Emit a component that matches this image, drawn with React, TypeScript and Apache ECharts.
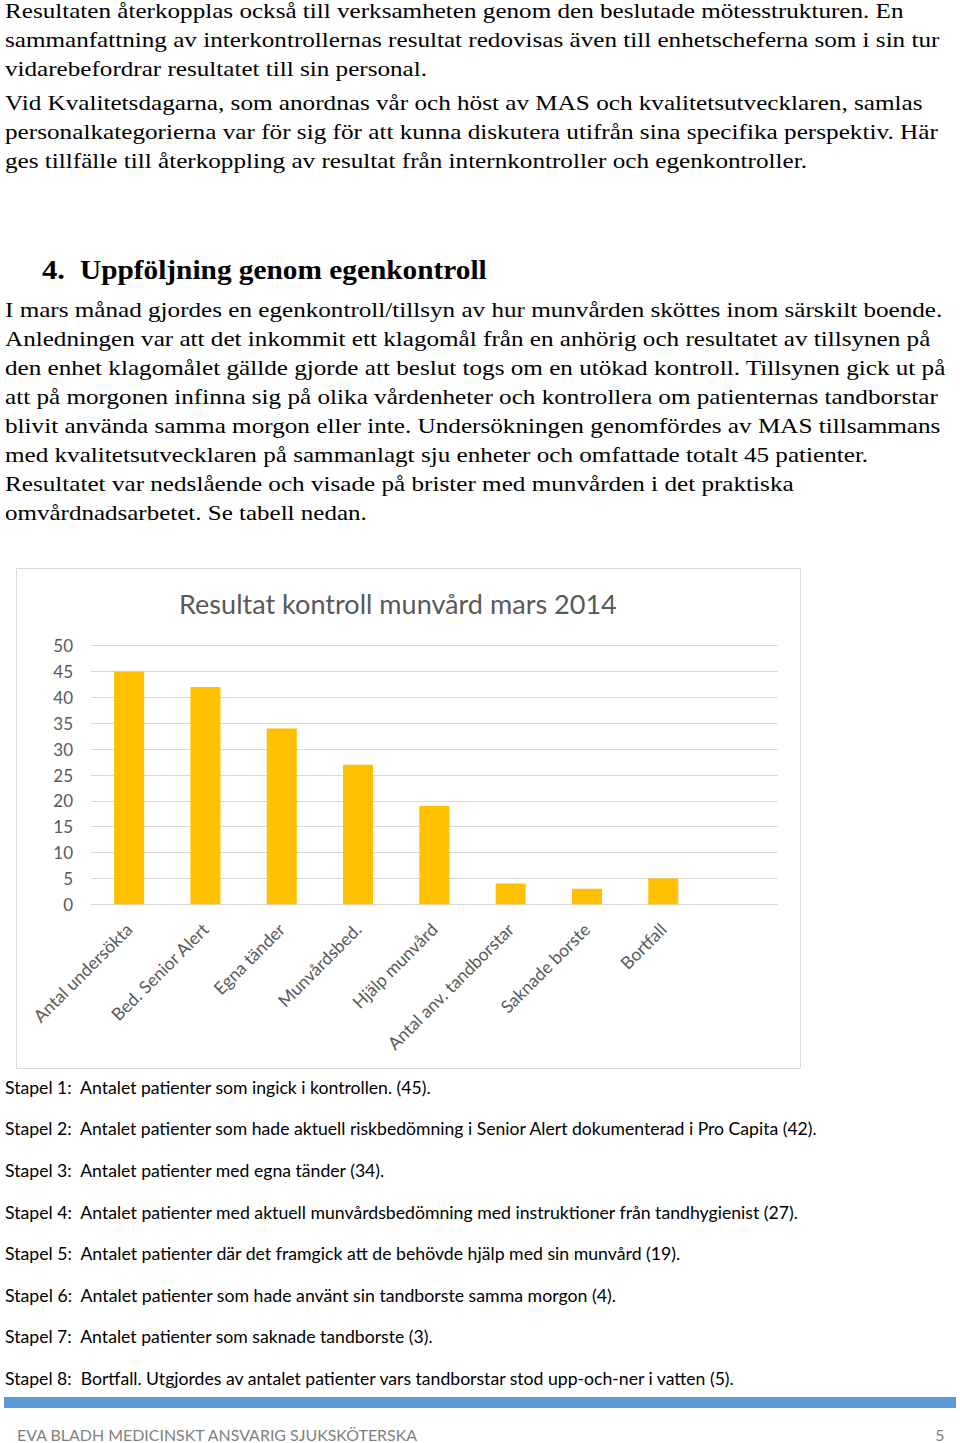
import React, { useEffect, useRef } from "react";
import * as echarts from "echarts";

// ---------- data ----------
const categories = [
  "Antal undersökta",
  "Bed. Senior Alert",
  "Egna tänder",
  "Munvårdsbed.",
  "Hjälp munvård",
  "Antal anv. tandborstar",
  "Saknade borste",
  "Bortfall",
  "",
];
const values: (number | null)[] = [45, 42, 34, 27, 19, 4, 3, 5, null];
const yMin = 0;
const yMax = 50;
const yStep = 5;
const chartTitle = "Resultat kontroll munvård mars 2014";

const para1 = [
  "Resultaten återkopplas också till verksamheten genom den beslutade mötesstrukturen. En",
  "sammanfattning av interkontrollernas resultat redovisas även till enhetscheferna som i sin tur",
  "vidarebefordrar resultatet till sin personal.",
];
const para2 = [
  "Vid Kvalitetsdagarna, som anordnas vår och höst av MAS och kvalitetsutvecklaren, samlas",
  "personalkategorierna var för sig för att kunna diskutera utifrån sina specifika perspektiv. Här",
  "ges tillfälle till återkoppling av resultat från internkontroller och egenkontroller.",
];
const headingNumber = "4.";
const headingText = "Uppföljning genom egenkontroll";
const para3 = [
  "I mars månad gjordes en egenkontroll/tillsyn av hur munvården sköttes inom särskilt boende.",
  "Anledningen var att det inkommit ett klagomål från en anhörig och resultatet av tillsynen på",
  "den enhet klagomålet gällde gjorde att beslut togs om en utökad kontroll. Tillsynen gick ut på",
  "att på morgonen infinna sig på olika vårdenheter och kontrollera om patienternas tandborstar",
  "blivit använda samma morgon eller inte. Undersökningen genomfördes av MAS tillsammans",
  "med kvalitetsutvecklaren på sammanlagt sju enheter och omfattade totalt 45 patienter.",
  "Resultatet var nedslående och visade på brister med munvården i det praktiska",
  "omvårdnadsarbetet. Se tabell nedan.",
];
const captions = [
  "Stapel 1:  Antalet patienter som ingick i kontrollen. (45).",
  "Stapel 2:  Antalet patienter som hade aktuell riskbedömning i Senior Alert dokumenterad i Pro Capita (42).",
  "Stapel 3:  Antalet patienter med egna tänder (34).",
  "Stapel 4:  Antalet patienter med aktuell munvårdsbedömning med instruktioner från tandhygienist (27).",
  "Stapel 5:  Antalet patienter där det framgick att de behövde hjälp med sin munvård (19).",
  "Stapel 6:  Antalet patienter som hade använt sin tandborste samma morgon (4).",
  "Stapel 7:  Antalet patienter som saknade tandborste (3).",
  "Stapel 8:  Bortfall. Utgjordes av antalet patienter vars tandborstar stod upp-och-ner i vatten (5).",
];
const footerText = "EVA BLADH MEDICINSKT ANSVARIG SJUKSKÖTERSKA";
const pageNumber = "5";

// ---------- layout ----------
const para1Right = [904, 940, 427];
const para2Right = [923, 938, 807];
const para3Right = [943, 931, 946, 938, 941, 869, 794, 367];
const captionRight = [432, 819, 386, 800, 682, 617, 434, 737];

const SERIF = '"Liberation Serif", "Times New Roman", serif';
const SANS = 'Lato, "Noto Sans", sans-serif';

let measureCtx: CanvasRenderingContext2D | null = null;
function measure(text: string, font: string) {
  if (!measureCtx) measureCtx = document.createElement("canvas").getContext("2d");
  measureCtx!.font = font;
  return measureCtx!.measureText(text).width;
}

function lineEl(
  text: string,
  x: number,
  right: number,
  y: number,
  family: string,
  size: number,
  weight: string,
  fill: string
) {
  const w = measure(text, `${weight} ${size}px ${family}`);
  const s = w > 0 ? (right - x) / w : 1;
  return {
    type: "text",
    x,
    y,
    scaleX: s,
    silent: true,
    style: {
      text,
      fontFamily: family,
      fontSize: size,
      fontWeight: weight,
      fill,
      align: "left",
      verticalAlign: "middle",
      textAlign: "left",
      textVerticalAlign: "middle",
    },
  };
}

export default function App() {
  const ref = useRef<HTMLDivElement>(null);
  useEffect(() => {
    document.body.style.margin = "0";
    if (!ref.current) return;
    const chart = echarts.init(ref.current, undefined, { renderer: "svg" });

    const graphics: any[] = [];
    para1.forEach((t, i) =>
      graphics.push(lineEl(t, 5, para1Right[i], 11 + 29 * i, SERIF, 22, "normal", "#000"))
    );
    para2.forEach((t, i) =>
      graphics.push(lineEl(t, 5, para2Right[i], 103 + 29 * i, SERIF, 22, "normal", "#000"))
    );
    graphics.push(lineEl(headingNumber, 42, 65, 269, SERIF, 28, "bold", "#000"));
    graphics.push(lineEl(headingText, 80, 487, 269, SERIF, 28, "bold", "#000"));
    para3.forEach((t, i) =>
      graphics.push(lineEl(t, 5, para3Right[i], 310 + 29 * i, SERIF, 22, "normal", "#000"))
    );
    captions.forEach((t, i) =>
      graphics.push(lineEl(t, 5, captionRight[i], 1087.5 + 41.6 * i, SANS, 17, "normal", "#000"))
    );
    // chart frame
    graphics.push({
      type: "rect",
      silent: true,
      shape: { x: 16.5, y: 568.5, width: 784, height: 500 },
      style: { fill: "none", stroke: "#d9d9d9", lineWidth: 1 },
    });
    // blue band
    graphics.push({
      type: "rect",
      silent: true,
      shape: { x: 4, y: 1397, width: 952, height: 11 },
      style: { fill: "#5b9bd5" },
    });
    graphics.push(lineEl(footerText, 17, 419, 1434, SANS, 16, "normal", "#7f7f7f"));
    graphics.push({
      type: "text",
      x: 940,
      y: 1434,
      silent: true,
      style: {
        text: pageNumber,
        fontFamily: SANS,
        fontSize: 16,
        fill: "#7f7f7f",
        align: "center",
        verticalAlign: "middle",
        textAlign: "center",
        textVerticalAlign: "middle",
      },
    });

    const titleSize = 26 * (438 / measure(chartTitle, `normal 26px ${SANS}`));

    chart.setOption({
      animation: false,
      backgroundColor: "#ffffff",
      title: {
        text: chartTitle,
        left: 179,
        top: 590,
        padding: 0,
        textStyle: {
          fontFamily: SANS,
          fontWeight: "normal",
          fontSize: titleSize,
          color: "#595959",
        },
      },
      grid: {
        left: 91,
        right: 960 - 777.7,
        top: 645.7,
        bottom: 1443 - 904.3,
        containLabel: false,
      },
      xAxis: {
        type: "category",
        data: categories,
        axisLine: { show: true, lineStyle: { color: "#d9d9d9", width: 1 } },
        axisTick: { show: false },
        axisLabel: {
          interval: 0,
          rotate: 45,
          margin: 22,
          color: "#595959",
          fontFamily: SANS,
          fontSize: 17.5,
        },
      },
      yAxis: {
        type: "value",
        min: yMin,
        max: yMax,
        interval: yStep,
        axisLine: { show: false },
        axisTick: { show: false },
        splitLine: { show: true, lineStyle: { color: "#d9d9d9", width: 1 } },
        axisLabel: {
          margin: 18,
          color: "#595959",
          fontFamily: SANS,
          fontSize: 17,
        },
      },
      series: [
        {
          type: "bar",
          data: values,
          barWidth: 30,
          itemStyle: { color: "#ffc000" },
          silent: true,
        },
      ],
      graphic: { elements: graphics },
    });

    return () => chart.dispose();
  }, []);

  return (
    <div
      ref={ref}
      style={{ position: "absolute", left: 0, top: 0, width: 960, height: 1443, background: "#fff" }}
    />
  );
}
